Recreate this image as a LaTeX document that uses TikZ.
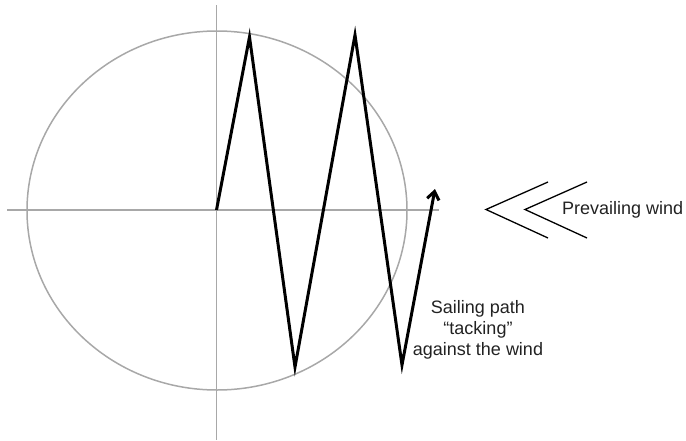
\documentclass[tikz,border=0pt]{standalone}
\usepackage{fontspec}
\setmainfont{Liberation Sans}
\usetikzlibrary{arrows.meta}
\definecolor{axisgray}{HTML}{A8A8A8}
\definecolor{textgray}{HTML}{222222}
\tikzset{
  axisline/.style={draw=axisgray, line width=1.5pt},
  pathline/.style={draw=black, line width=3pt, line join=miter},
  chevron/.style={draw=black, line width=1.3pt},
  lbl/.style={text=textgray, font=\fontsize{18}{21}\selectfont, inner sep=0pt, align=center}
}
\begin{document}
\begin{tikzpicture}[x=1pt,y=-1pt]
\useasboundingbox (0,0) rectangle (686,440);
% axes
\coordinate (xl) at (7,210);
\coordinate (xr) at (439,210);
\coordinate (yt) at (216.5,5);
\coordinate (yb) at (216.5,440);
\draw[axisline] (xl) -- (xr);
\draw[axisline] (yt) -- (yb);
% circle of directions
\coordinate (c) at (217,210.5);
\draw[axisline] (c) ellipse [x radius=190pt, y radius=179.5pt];
% sailing path
\coordinate (p0) at (216.5,210);
\coordinate (p1) at (249.5,37);
\coordinate (p2) at (295,367);
\coordinate (p3) at (355,35);
\coordinate (p4) at (402,365);
\coordinate (p5) at (435,189);
\draw[pathline, -{Straight Barb[length=8pt,width=12pt,line width=3pt]}] (p0) -- (p1) -- (p2) -- (p3) -- (p4) -- (p5);
% wind chevrons
\coordinate (a1) at (548,182);
\coordinate (a2) at (486,209.5);
\coordinate (a3) at (548,238);
\coordinate (b1) at (587,182);
\coordinate (b2) at (525,209.5);
\coordinate (b3) at (587,238);
\draw[chevron] (a1) -- (a2) -- (a3);
\draw[chevron] (b1) -- (b2) -- (b3);
% labels
\node[lbl, anchor=west] (wind) at (562,210) {Prevailing wind};
\node[lbl, anchor=north] (sail) at (478,300) {Sailing path\\“tacking”\\against the wind};
\end{tikzpicture}
\end{document}
